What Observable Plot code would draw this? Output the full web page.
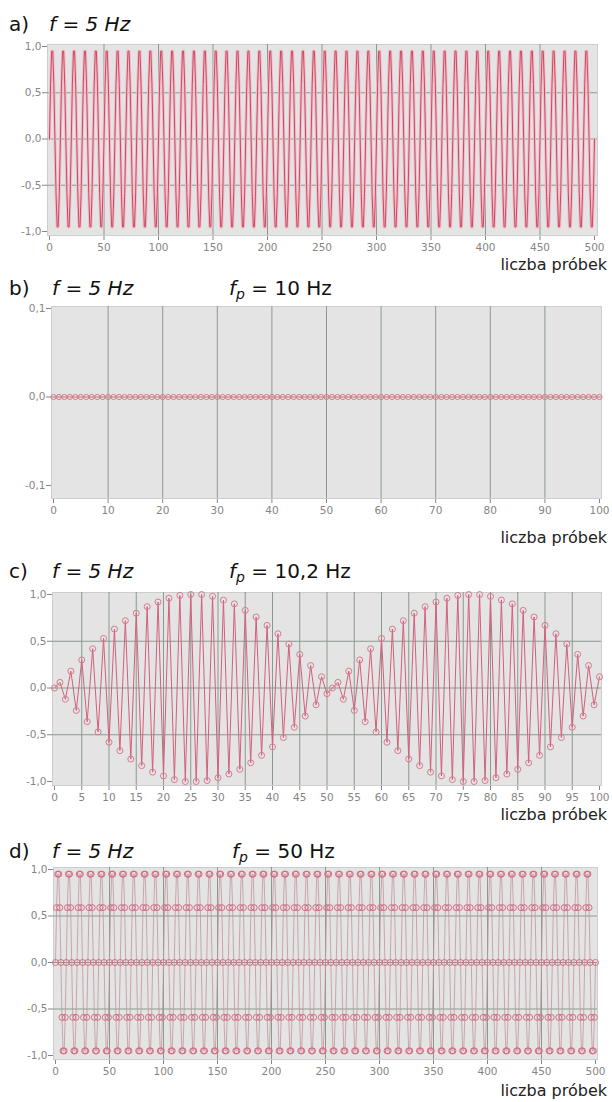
<!DOCTYPE html>
<html><head><meta charset="utf-8">
<script src="https://cdn.jsdelivr.net/npm/d3@7"></script>
<script src="https://cdn.jsdelivr.net/npm/@observablehq/plot@0.6"></script>
<style>
body{margin:0;background:#fff;}
#root{position:relative;width:612px;height:1102px;font-family:"DejaVu Sans",sans-serif;overflow:hidden;}
.t{position:absolute;font-size:20px;line-height:20px;color:#111;white-space:nowrap;}
.it{font-style:italic;}
.xl{position:absolute;right:5px;font-size:16px;line-height:16px;color:#222;white-space:nowrap;}
.p{position:absolute;left:0;}
sub{font-size:14px;vertical-align:-4px;line-height:0;}
</style></head><body><div id="root"></div>
<script>
// one period of the 5 Hz signal sampled at 50 Hz, read from panels a) and d)
const cycleAD = [0, 0.59, 0.95, 0.95, 0.59, 0, -0.59, -0.95, -0.95, -0.59];
const nSamplesAD = 501;
// panel b): every sample sits on 0
const bValue = 0;
const nSamplesB = 101;
// panel c): samples (n = 0..100)
const cValues = [0, 0.06, -0.12, 0.18, -0.24, 0.30, -0.36, 0.42, -0.47, 0.53, -0.58, 0.63, -0.67, 0.72, -0.76, 0.80, -0.83, 0.87, -0.90, 0.92, -0.94, 0.96, -0.98, 0.99, -1.00, 1.00, -1.00, 1.00, -0.99, 0.98, -0.96, 0.94, -0.92, 0.90, -0.87, 0.83, -0.80, 0.76, -0.72, 0.67, -0.63, 0.58, -0.53, 0.47, -0.42, 0.36, -0.30, 0.24, -0.18, 0.12, -0.06,
  0,
  0.06, -0.12, 0.18, -0.24, 0.30, -0.36, 0.42, -0.47, 0.53, -0.58, 0.63, -0.67, 0.72, -0.76, 0.80, -0.83, 0.87, -0.90, 0.92, -0.94, 0.96, -0.98, 0.99, -1.00, 1.00, -1.00, 1.00, -0.99, 0.98, -0.96, 0.94, -0.92, 0.90, -0.87, 0.83, -0.80, 0.76, -0.72, 0.67, -0.63, 0.58, -0.53, 0.47, -0.42, 0.36, -0.30, 0.24, -0.18, 0.12];

const ticks500 = [0, 50, 100, 150, 200, 250, 300, 350, 400, 450, 500];
const ticks100by10 = [0, 10, 20, 30, 40, 50, 60, 70, 80, 90, 100];
const ticks100by5 = [0, 5, 10, 15, 20, 25, 30, 35, 40, 45, 50, 55, 60, 65, 70, 75, 80, 85, 90, 95, 100];
const yTicks1 = [-1, -0.5, 0, 0.5, 1];
const yTicksB = [-0.1, 0, 0.1];
const yGrid1 = [-0.5, 0, 0.5];
const yGridB = [0];

const titles = [
  {label: "a)", f: "f = 5 Hz", fp: null},
  {label: "b)", f: "f = 5 Hz", fp: "10 Hz"},
  {label: "c)", f: "f = 5 Hz", fp: "10,2 Hz"},
  {label: "d)", f: "f = 5 Hz", fp: "50 Hz"}
];
const xLabel = "liczba próbek";

const dataAD = Array.from({length: nSamplesAD}, (_, i) => ({n: i, v: cycleAD[i % cycleAD.length]}));
const dataB = Array.from({length: nSamplesB}, (_, i) => ({n: i, v: bValue}));
const dataC = cValues.map((v, i) => ({n: i, v}));

const gridColor = "#8a9a8e";
const fmt = d => d.toFixed(1).replace(".", ",");

function makePlot(o) {
  return Plot.plot({
    width: 612, height: o.height,
    marginTop: o.mt, marginBottom: o.mb, marginLeft: o.ml, marginRight: o.mr,
    style: {fontFamily: "DejaVu Sans, sans-serif", fontSize: "10.5px", color: "#858585", background: "transparent", overflow: "visible"},
    x: {domain: [0, o.xMax], insetLeft: o.il, insetRight: o.ir, ticks: o.xTicks, tickFormat: d => String(d), tickSize: 5, tickPadding: 3, label: null},
    y: {domain: o.yDomain, insetTop: o.it, insetBottom: o.ib, ticks: o.yTicks, tickFormat: fmt, tickSize: 5, tickPadding: 1, label: null},
    marks: [
      Plot.frame({fill: "#e4e4e4", stroke: "#cdcdcd"}),
      Plot.ruleX(o.xGrid, {stroke: gridColor, strokeWidth: 1}),
      Plot.ruleY(o.yGrid, {stroke: gridColor, strokeWidth: 1}),
      ...o.marks
    ]
  });
}

const panels = [
  {top: 34, height: 244, mt: 10, mb: 43, ml: 47, mr: 15, il: 2, ir: 3, it: 2, ib: 4,
   xMax: 500, xTicks: ticks500, xGrid: ticks500.slice(1, -1), yDomain: [-1, 1], yTicks: yTicks1, yGrid: yGrid1,
   marks: [
     Plot.line(dataAD, {x: "n", y: "v", stroke: "#f2bcc7", strokeWidth: 3}),
     Plot.line(dataAD, {x: "n", y: "v", stroke: "#c94a66", strokeWidth: 1})
   ], titleTop: 14, xlTop: 257},
  {top: 296, height: 229, mt: 10, mb: 27, ml: 51, mr: 11, il: 2, ir: 2, it: 2, ib: 13,
   xMax: 100, xTicks: ticks100by10, xGrid: ticks100by10.slice(1, -1), yDomain: [-0.1, 0.1], yTicks: yTicksB, yGrid: yGridB,
   marks: [
     Plot.line(dataB, {x: "n", y: "v", stroke: "#e69aa8", strokeWidth: 1}),
     Plot.dot(dataB, {x: "n", y: "v", r: 2.6, stroke: "#d9788a", strokeWidth: 1, fill: "none"})
   ], titleTop: 278, xlTop: 530},
  {top: 582, height: 223, mt: 10, mb: 20, ml: 52, mr: 11, il: 2, ir: 2, it: 2, ib: 4,
   xMax: 100, xTicks: ticks100by5, xGrid: ticks100by5.slice(1, -1), yDomain: [-1, 1], yTicks: yTicks1, yGrid: yGrid1,
   marks: [
     Plot.line(dataC, {x: "n", y: "v", stroke: "#d2607a", strokeWidth: 1}),
     Plot.dot(dataC, {x: "n", y: "v", r: 3, stroke: "#d97a8c", strokeWidth: 1, fill: "none"})
   ], titleTop: 561, xlTop: 807},
  {top: 857, height: 225, mt: 10, mb: 23, ml: 53, mr: 15, il: 2, ir: 2, it: 2, ib: 4,
   xMax: 500, xTicks: ticks500, xGrid: ticks500.slice(1, -1), yDomain: [-1, 1], yTicks: yTicks1, yGrid: yGrid1,
   marks: [
     Plot.line(dataAD, {x: "n", y: "v", stroke: "#c0959c", strokeWidth: 0.8}),
     Plot.dot(dataAD, {x: "n", y: "v", r: 3, stroke: "#d46c82", strokeWidth: 1, fill: "none"})
   ], titleTop: 841, xlTop: 1083}
];

const root = document.getElementById("root");
panels.forEach((p, i) => {
  const svg = makePlot(p);
  const wrap = document.createElement("div");
  wrap.className = "p";
  wrap.style.top = p.top + "px";
  wrap.appendChild(svg);
  root.appendChild(wrap);

  const t = titles[i];
  const lab = document.createElement("div");
  lab.className = "t"; lab.style.left = "9px"; lab.style.top = p.titleTop + "px";
  lab.textContent = t.label;
  root.appendChild(lab);

  const f = document.createElement("div");
  f.className = "t it"; f.style.left = (i === 0 ? 49 : 52) + "px"; f.style.top = p.titleTop + "px";
  f.textContent = t.f;
  root.appendChild(f);

  if (t.fp) {
    const fp = document.createElement("div");
    fp.className = "t"; fp.style.left = (i === 3 ? 232 : 229) + "px"; fp.style.top = p.titleTop + "px";
    fp.innerHTML = '<span class="it">f<sub>p</sub></span> = ' + t.fp;
    root.appendChild(fp);
  }
  const xl = document.createElement("div");
  xl.className = "xl"; xl.style.top = p.xlTop + "px";
  xl.textContent = xLabel;
  root.appendChild(xl);
});
</script></body></html>
